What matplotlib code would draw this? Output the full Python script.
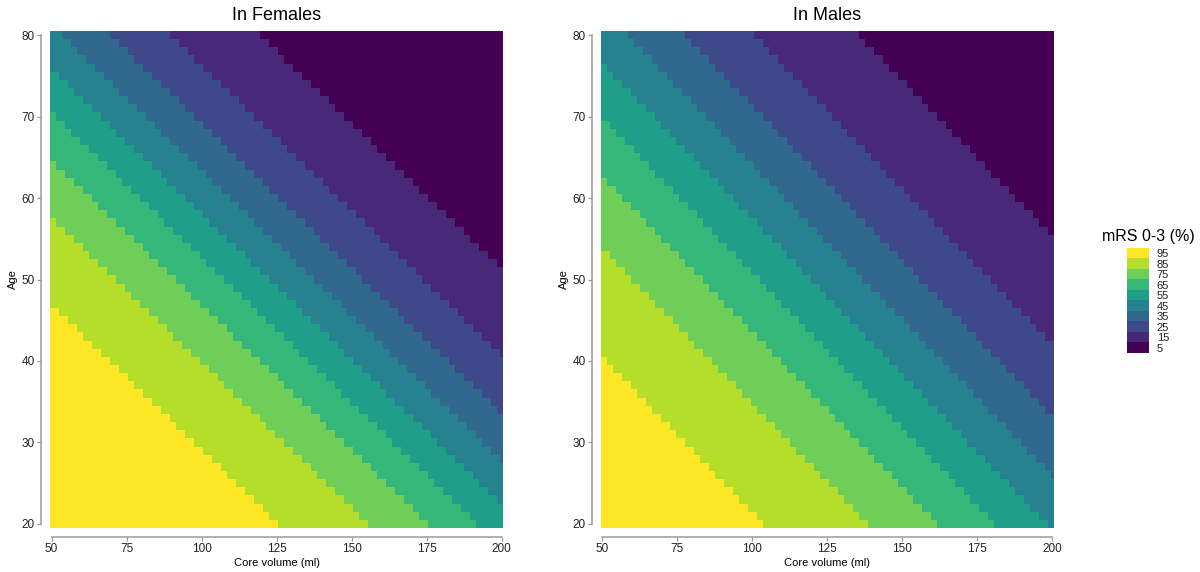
import numpy as np
import matplotlib
matplotlib.use("Agg")
import matplotlib.pyplot as plt
from matplotlib.colors import ListedColormap, BoundaryNorm

plt.rcParams['font.family'] = ['Liberation Sans', 'DejaVu Sans']

# grid of the heatmap
core_volume = np.arange(50, 201)   # ml, 1 ml cells
age = np.arange(20, 81)            # years, 1 year cells

# probability thresholds between colour bands (%)
thresholds = [90, 80, 70, 60, 50, 40, 30, 20, 10]
band_labels = [95, 85, 75, 65, 55, 45, 35, 25, 15, 5]

# where each threshold boundary crosses age 20 and age 80 (core volume, ml)
female_vol_at_20 = [125.7, 155.7, 175.7, 192.0, 207.0, 222.0, 238.3, 258.3, 288.3]
female_vol_at_80 = [-43.1, -13.1, 6.9, 23.2, 38.2, 53.2, 69.5, 89.5, 119.5]
male_vol_at_20 = [103.7, 138.6, 161.8, 180.8, 198.2, 215.6, 234.6, 257.8, 292.7]
male_vol_at_80 = [-53.7, -18.8, 4.4, 23.4, 40.8, 58.2, 77.2, 100.4, 135.3]


def band_grid(v20, v80):
    V, A = np.meshgrid(core_volume, age)
    grid = np.zeros(V.shape)
    for lo, hi in zip(v20, v80):
        edge = lo + (hi - lo) * (A - 20) / 60.0
        grid += (V < edge)
    # 0 -> lowest band (5 %), 9 -> highest band (95 %)
    return grid


colors = plt.cm.viridis(np.linspace(0, 1, 10))
cmap = ListedColormap(colors)
norm = BoundaryNorm(np.arange(-0.5, 10.5, 1), 10)

fig = plt.figure(figsize=(12, 5.72), dpi=100)
W, H = 1200, 572
px = 72 / 100  # points per pixel
panels = [
    ("In Females", female_vol_at_20, female_vol_at_80, 50.0),
    ("In Males", male_vol_at_20, male_vol_at_80, 600.8),
]
axis_grey = "#9a9a9a"

for title, v20, v80, left_px in panels:
    ax = fig.add_axes([left_px / W, (H - 528) / H, 453 / W, 497 / H])
    ax.pcolormesh(np.arange(49.5, 201.5), np.arange(19.5, 81.5), band_grid(v20, v80),
                  cmap=cmap, norm=norm, shading='flat')
    ax.set_xlim(49.5, 200.5)
    ax.set_ylim(19.5, 80.5)
    ax.set_xticks([50, 75, 100, 125, 150, 175, 200])
    ax.set_yticks([20, 30, 40, 50, 60, 70, 80])
    for s in ('top', 'right'):
        ax.spines[s].set_visible(False)
    ax.spines['left'].set_position(('outward', 9 * px))
    ax.spines['bottom'].set_position(('outward', 9 * px))
    ax.spines['left'].set_bounds(20, 80)
    ax.spines['bottom'].set_bounds(50, 200)
    for s in ('left', 'bottom'):
        ax.spines[s].set_color(axis_grey)
        ax.spines[s].set_linewidth(1.1)
    ax.tick_params(axis='both', colors=axis_grey, length=4 * px, width=0.9, labelsize=8.5,
                   labelcolor='#222222', pad=2 * px)
    ax.set_xlabel("Core volume (ml)", fontsize=8, labelpad=3 * px)
    ax.set_ylabel("Age", fontsize=8, labelpad=4 * px)
    ax.set_title(title, fontsize=13, pad=8)

# legend
lax = fig.add_axes([1126.7 / W, (H - 353) / H, 21.6 / W, 105 / H])
lax.imshow(np.arange(9, -1, -1)[:, None], cmap=cmap, norm=norm, aspect='auto',
           interpolation='nearest')
lax.set_xticks([])
lax.set_yticks(range(10))
lax.set_yticklabels([str(b) for b in band_labels], fontsize=8)
lax.yaxis.tick_right()
lax.tick_params(axis='y', length=0, pad=6, labelcolor='#222222')
for s in lax.spines.values():
    s.set_visible(False)
fig.text(1148 / W, (H - 237) / H, "mRS 0-3 (%)", fontsize=11.5, ha='center', va='center')

fig.savefig("out.png", dpi=100)
